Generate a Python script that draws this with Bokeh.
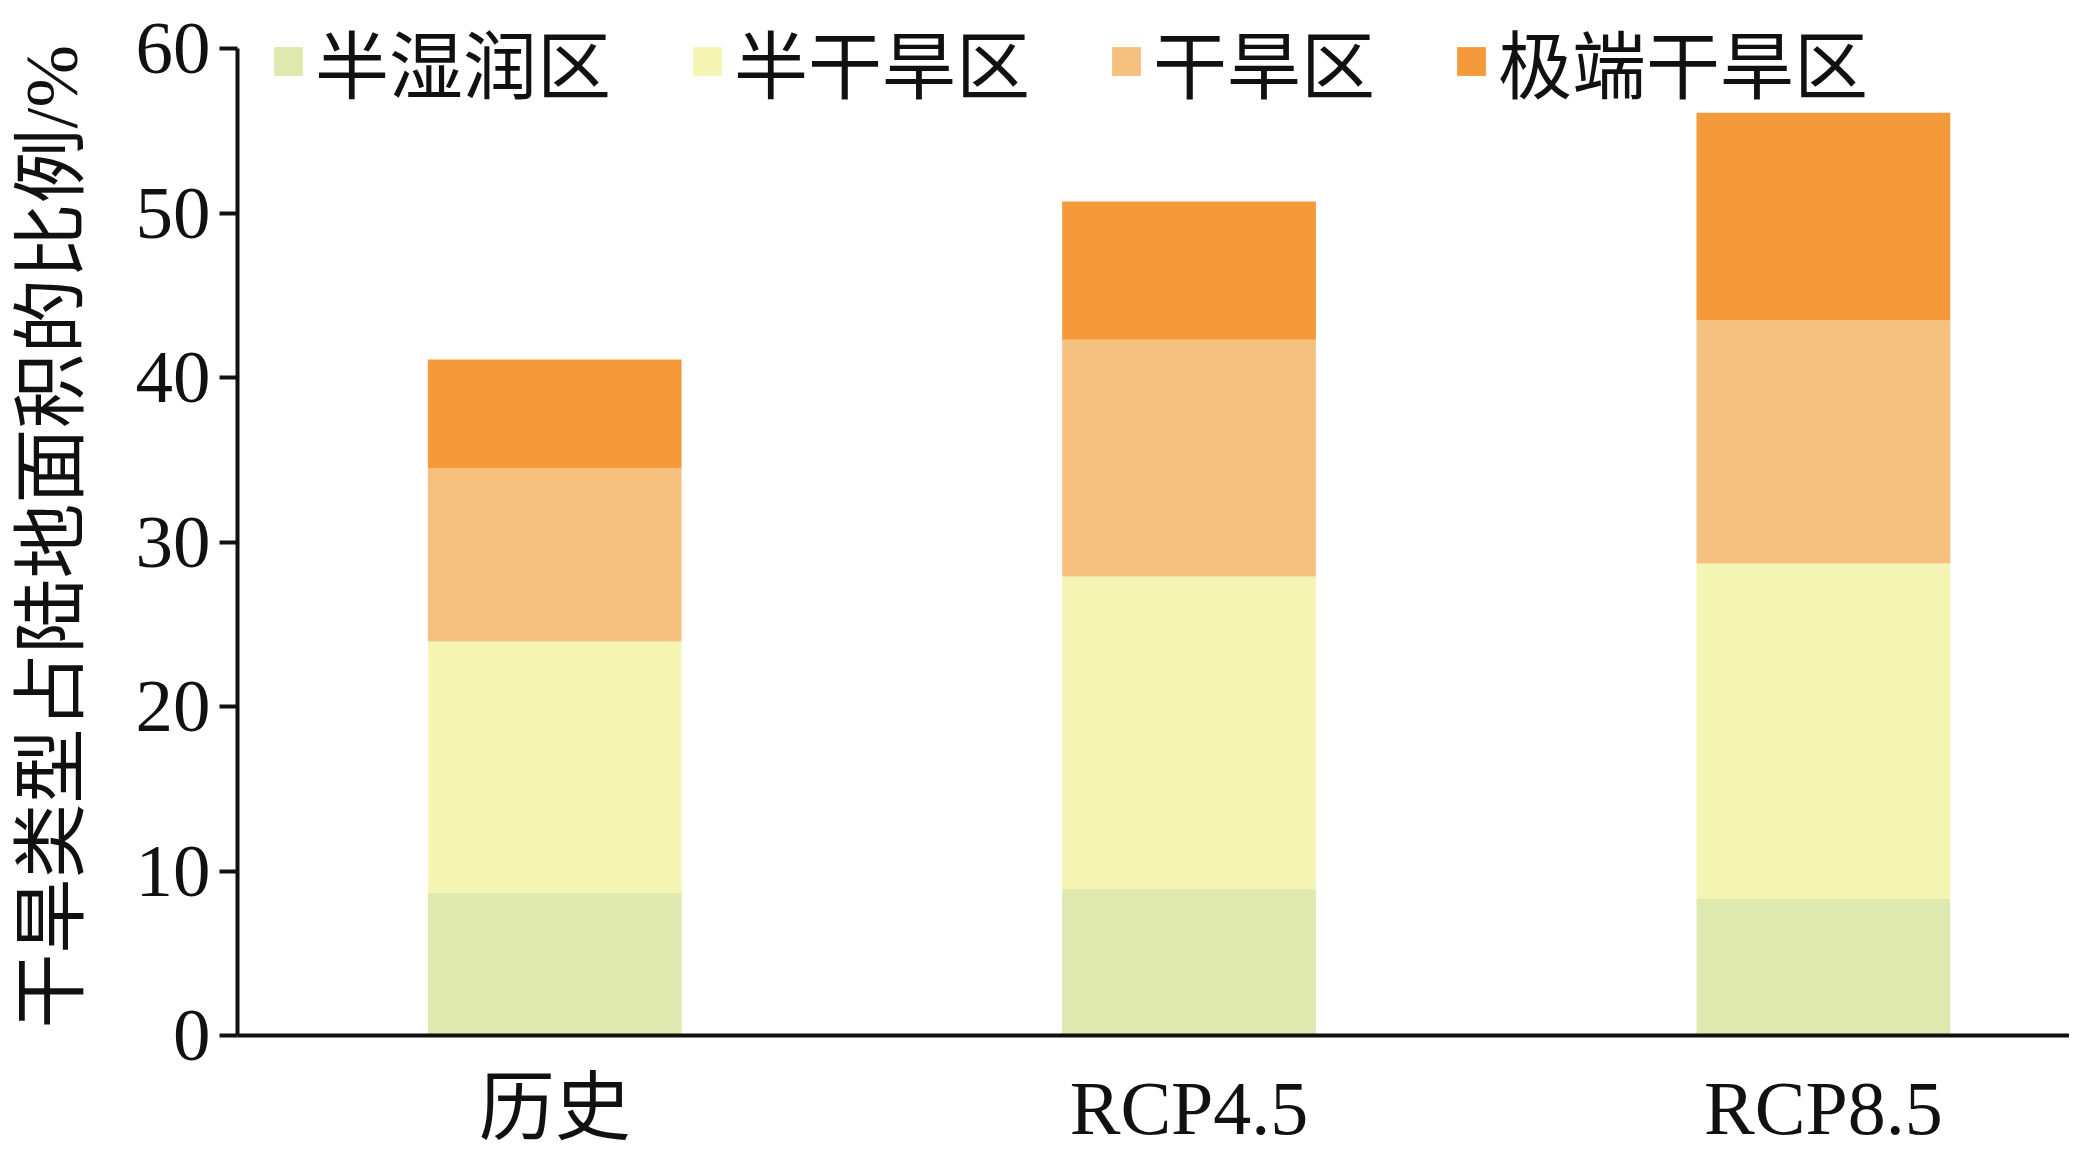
from bokeh.plotting import figure
from bokeh.models import Range1d, FixedTicker, Legend, LegendItem, ColumnDataSource
from bokeh.embed import file_html
from bokeh.resources import INLINE

categories = ["历史", "RCP4.5", "RCP8.5"]
zones = ["半湿润区", "半干旱区", "干旱区", "极端干旱区"]
semi_humid = [8.7, 8.9, 8.3]
semi_arid = [15.25, 19.0, 20.4]
arid = [10.55, 14.4, 14.8]
hyper_arid = [6.6, 8.4, 12.6]
colors = ["#DFE8AF", "#F5F5B3", "#F6C17E", "#F49A3A"]
y_ticks = [0, 10, 20, 30, 40, 50, 60]
y_title = "干旱类型占陆地面积的比例/%"

positions = [i + 0.5 for i in range(len(categories))]
source = ColumnDataSource(data={
    "x": positions,
    zones[0]: semi_humid,
    zones[1]: semi_arid,
    zones[2]: arid,
    zones[3]: hyper_arid,
})

SERIF_CJK = "Liberation Serif, Noto Sans CJK SC"

p = figure(width=2069, height=1157, output_backend="svg", toolbar_location=None,
           x_range=Range1d(0, 2.888), y_range=Range1d(0, 62.92),
           min_border_left=237, min_border_top=0, min_border_right=0, min_border_bottom=122)
p.outline_line_color = None
p.xgrid.visible = False
p.ygrid.visible = False
p.background_fill_color = "white"
p.border_fill_color = "white"

renderers = p.vbar_stack(zones, x="x", width=0.4, color=colors, source=source, line_color=None)

# y axis
ya = p.yaxis[0]
ya.bounds = (0, 60)
ya.ticker = FixedTicker(ticks=y_ticks, minor_ticks=[])
ya.axis_line_width = 4
ya.axis_line_color = "#111111"
ya.major_tick_line_width = 4
ya.major_tick_line_color = "#111111"
ya.major_tick_out = 18
ya.major_tick_in = 0
ya.minor_tick_out = 0
ya.minor_tick_in = 0
ya.major_label_text_font = "Liberation Serif"
ya.major_label_text_font_size = "75px"
ya.major_label_text_color = "#111111"
ya.major_label_standoff = 9
ya.axis_label = y_title + "\u2002"
ya.axis_label_text_font = SERIF_CJK
ya.axis_label_text_font_size = "75px"
ya.axis_label_text_font_style = "normal"
ya.axis_label_text_color = "#111111"
ya.axis_label_standoff = 40

# x axis
xa = p.xaxis[0]
xa.ticker = FixedTicker(ticks=positions, minor_ticks=[])
xa.major_label_overrides = {pos: cat for pos, cat in zip(positions, categories)}
xa.axis_line_width = 4
xa.axis_line_color = "#111111"
xa.major_tick_out = 0
xa.major_tick_in = 0
xa.minor_tick_out = 0
xa.minor_tick_in = 0
xa.major_label_text_font = SERIF_CJK
xa.major_label_text_font_size = "76px"
xa.major_label_text_color = "#111111"
xa.major_label_standoff = 30

legend = Legend(items=[LegendItem(label=z, renderers=[r]) for z, r in zip(zones, renderers)],
                orientation="horizontal", location=(33, 921))
legend.border_line_color = None
legend.background_fill_alpha = 0
legend.padding = 0
legend.margin = 0
legend.glyph_width = 36
legend.glyph_height = 36
legend.label_standoff = 9
legend.spacing = 78
legend.label_text_font = "Noto Sans CJK SC"
legend.label_text_font_size = "74px"
legend.label_text_color = "#111111"
p.add_layout(legend, "center")

open("out.html", "w").write(file_html(p, INLINE))
